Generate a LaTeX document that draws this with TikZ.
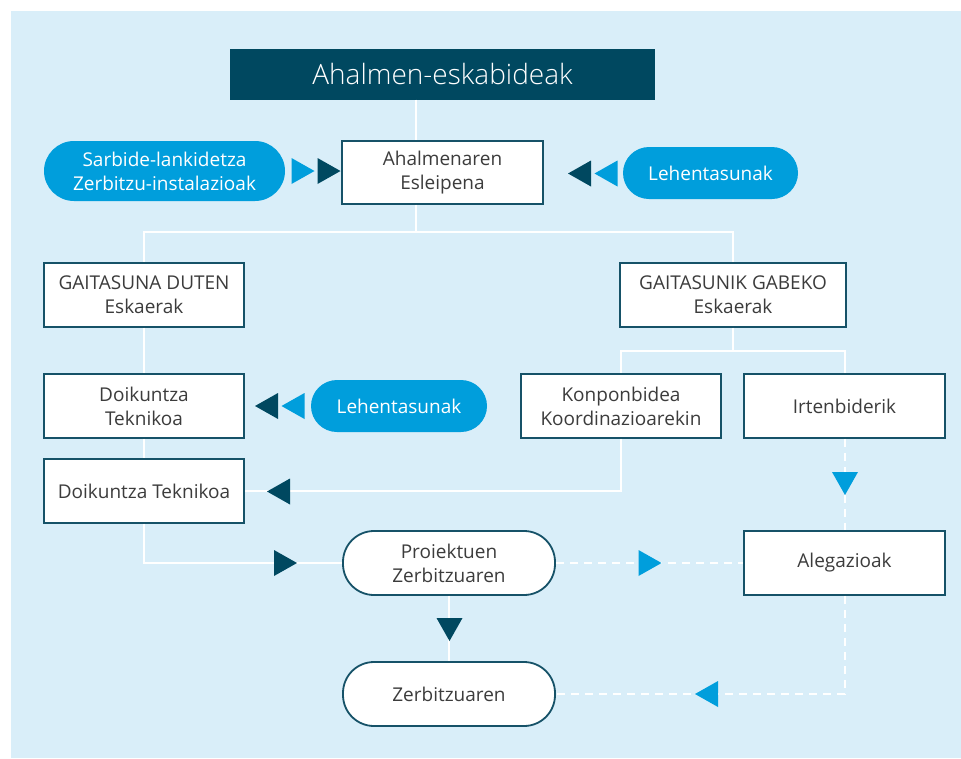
\documentclass[tikz,border=0pt]{standalone}
\usepackage{fontspec}
\setmainfont{Open Sans}
\newfontfamily\lightfont{Open Sans Light}
\usetikzlibrary{positioning}
\definecolor{bgblue}{RGB}{217,238,249}
\definecolor{darkteal}{RGB}{0,72,96}
\definecolor{boxline}{RGB}{22,82,104}
\definecolor{pillblue}{RGB}{0,158,220}
\definecolor{txtgray}{RGB}{60,60,60}
\newcommand\triR[3]{\fill[#3] (#1-11.5,#2-13) -- (#1+11.5,#2) -- (#1-11.5,#2+13) -- cycle;}
\newcommand\triL[3]{\fill[#3] (#1+11.5,#2-13) -- (#1-11.5,#2) -- (#1+11.5,#2+13) -- cycle;}
\newcommand\triD[3]{\fill[#3] (#1-13,#2-11.5) -- (#1,#2+11.5) -- (#1+13,#2-11.5) -- cycle;}
\tikzset{
  bodyfont/.style={font=\fontsize{19}{24}\selectfont},
  wbox/.style={draw=boxline, line width=1.8pt, fill=white, text=txtgray, align=center,
    bodyfont, inner sep=0pt, minimum width=200pt, minimum height=64pt},
  wpill/.style={wbox, rounded corners=31pt},
  bpill/.style={fill=pillblue, text=white, align=center, bodyfont, inner sep=0pt,
    rounded corners=26pt, minimum height=52pt},
  wline/.style={draw=white, line width=2pt},
  dline/.style={draw=white, line width=2pt, dash pattern=on 8pt off 6pt},
}
\begin{document}
\begin{tikzpicture}[x=1pt,y=-1pt]
\useasboundingbox (0,0) rectangle (961,758);
\fill[white] (0,0) rectangle (961,758);
\fill[bgblue] (11,11) rectangle (961,758);

% nodes
\node[fill=darkteal, text=white, font=\lightfont\fontsize{28}{30}\selectfont, inner sep=0pt,
      minimum width=425pt, minimum height=51pt] (title) at (442.5,74) {Ahalmen-eskabideak};
\node[wbox, minimum width=201pt, minimum height=63pt] (alloc) at (442.5,172.5) {Ahalmenaren\\Esleipena};
\node[bpill, minimum width=241pt, minimum height=60pt, rounded corners=30pt] (sarb) at (164.5,171) {Sarbide-lankidetza\\Zerbitzu-instalazioak};
\node[bpill, minimum width=175pt] (leh1) at (710.5,173) {Lehentasunak};
\node[wbox] (gd) at (144,295) {GAITASUNA DUTEN\\Eskaerak};
\node[wbox, minimum width=226pt] (gg) at (733,295) {GAITASUNIK GABEKO\\Eskaerak};
\node[wbox] (d1) at (144,406) {Doikuntza\\Teknikoa};
\node[bpill, minimum width=176pt] (leh2) at (399,406) {Lehentasunak};
\node[wbox] (d2) at (144,491) {Doikuntza Teknikoa};
\node[wbox] (kon) at (621,406) {Konponbidea\\Koordinazioarekin};
\node[wbox, minimum width=201pt] (irt) at (844.5,406) {Irtenbiderik};
\node[wpill, minimum width=212pt] (proj) at (449,563) {Proiektuen\\Zerbitzuaren};
\node[wbox, minimum width=201pt] (aleg) at (844.5,563) {Alegazioak};
\node[wpill, minimum width=212pt] (zer) at (449,694) {Zerbitzuaren};

% connectors
\coordinate (j0) at (416,232);
\coordinate (j2) at (733,351);
\draw[wline] (title.south -| j0) -- (alloc.north -| j0);
\draw[wline] (alloc.south -| j0) -- (j0) -| (gd.north);
\draw[wline] (j0) -| (gg.north);
\draw[wline] (gd.south) -- (d1.north);
\draw[wline] (d1.south) -- (d2.north);
\draw[wline] (d2.south) |- (proj.west);
\draw[wline] (gg.south) -- (j2) -| (kon.north);
\draw[wline] (j2) -| (irt.north);
\draw[wline] (kon.south) |- (d2.east);
\draw[wline] (proj.south) -- (zer.north);
\draw[dline] (irt.south) -- (aleg.north);
\draw[dline] (proj.east) -- (aleg.west);
\draw[dline] (aleg.south) |- (zer.east);

% arrow triangles
\triR{303}{171}{pillblue}
\triR{329}{171}{darkteal}
\triL{579.5}{173.5}{darkteal}
\triL{606}{173.5}{pillblue}
\triL{266.5}{406}{darkteal}
\triL{293}{406}{pillblue}
\triL{278.5}{491.5}{darkteal}
\triR{285.5}{563}{darkteal}
\triR{650}{563}{pillblue}
\triD{845}{483.5}{pillblue}
\triD{449.5}{629.5}{darkteal}
\triL{706.5}{694}{pillblue}
\end{tikzpicture}
\end{document}
